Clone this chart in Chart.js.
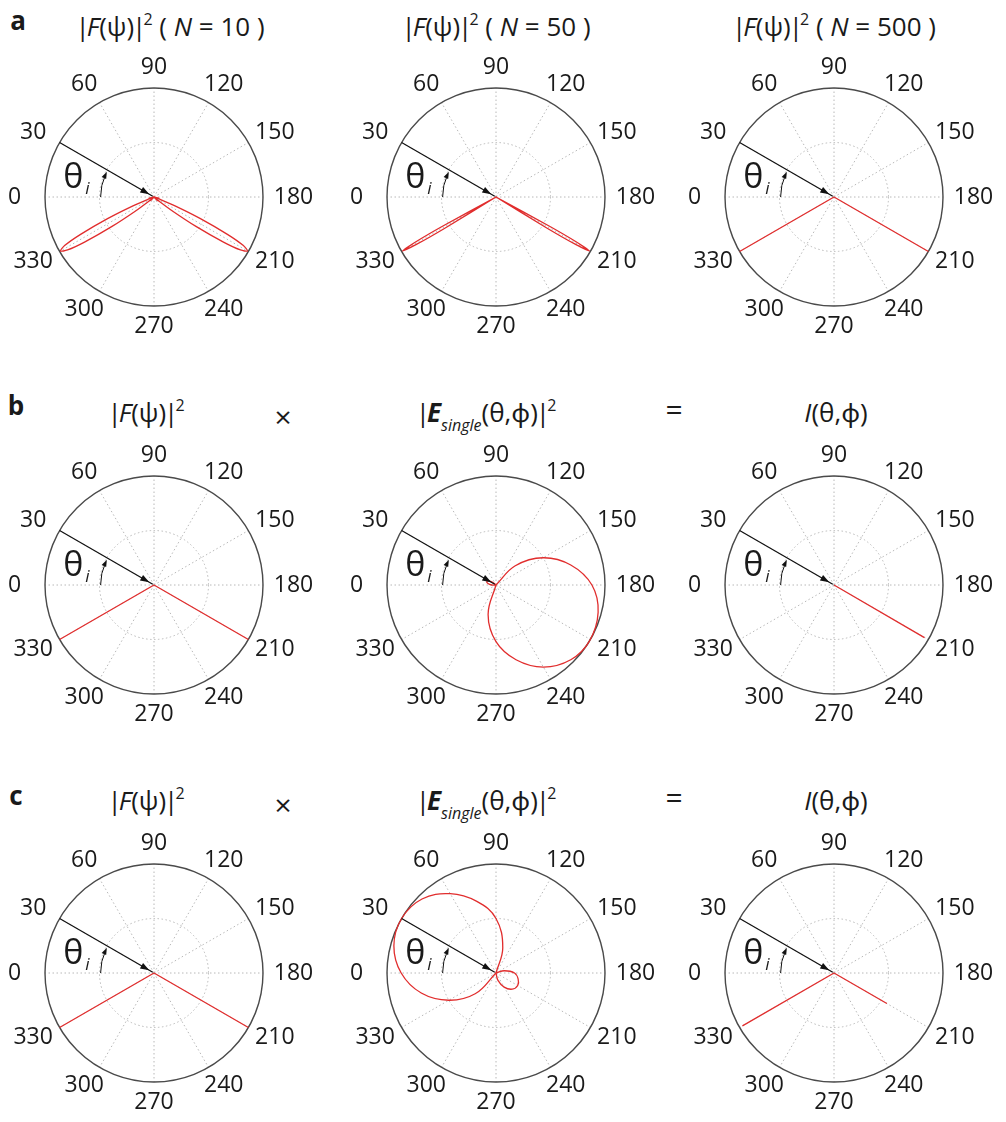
<!DOCTYPE html>
<html>
<head>
<meta charset="utf-8">
<script src="https://cdn.jsdelivr.net/npm/chart.js@4/dist/chart.umd.min.js"></script>
<style>
  body { margin: 0; background: #fff; }
  #page { position: relative; width: 1006px; height: 1122px; font-family: "Open Sans", "Noto Sans", sans-serif; color: #1a1a1a; }
  canvas { position: absolute; }
  .t { position: absolute; transform: translate(-50%, -50%); white-space: nowrap; font-size: 26px; }
  .t .bl { margin-right: -3px; }
  .t .br { margin-left: -2px; margin-right: -3px; }
  .t sup { font-size: 16px; vertical-align: 0; position: relative; top: -11px; }
  .t sub { font-size: 16px; vertical-align: 0; position: relative; top: 9px; }
  .t.op { font-size: 30px; }
  .panel { position: absolute; font-weight: bold; font-size: 26px; transform: translate(-50%, -50%); }
</style>
</head>
<body>
<div id="page">
  <div class="panel" style="left:18px;top:20px">a</div>
  <div class="t" style="left:170px;top:26px"><span class="bl">|</span><i>F</i>(ψ)<span class="br">|</span><sup>2</sup> ( <i>N</i> = 10 )</div>
  <div class="t" style="left:496px;top:26px"><span class="bl">|</span><i>F</i>(ψ)<span class="br">|</span><sup>2</sup> ( <i>N</i> = 50 )</div>
  <div class="t" style="left:834px;top:26px"><span class="bl">|</span><i>F</i>(ψ)<span class="br">|</span><sup>2</sup> ( <i>N</i> = 500 )</div>

  <div class="panel" style="left:16px;top:405px">b</div>
  <div class="t" style="left:146px;top:412px"><span class="bl">|</span><i>F</i>(ψ)<span class="br">|</span><sup>2</sup></div>
  <div class="t op" style="left:283px;top:416px">×</div>
  <div class="t" style="left:486px;top:412px"><span class="bl">|</span><b><i>E</i></b><sub><i>single</i></sub>(θ,ϕ)<span class="br">|</span><sup>2</sup></div>
  <div class="t op" style="left:674px;top:408px">=</div>
  <div class="t" style="left:836px;top:412px"><i>I</i>(θ,ϕ)</div>

  <div class="panel" style="left:16px;top:795px">c</div>
  <div class="t" style="left:146px;top:800px"><span class="bl">|</span><i>F</i>(ψ)<span class="br">|</span><sup>2</sup></div>
  <div class="t op" style="left:283px;top:804px">×</div>
  <div class="t" style="left:486px;top:800px"><span class="bl">|</span><b><i>E</i></b><sub><i>single</i></sub>(θ,ϕ)<span class="br">|</span><sup>2</sup></div>
  <div class="t op" style="left:674px;top:796px">=</div>
  <div class="t" style="left:836px;top:800px"><i>I</i>(θ,ϕ)</div>
</div>
<script>
// angular ticks of every polar plot (degrees, 0 at left, clockwise)
const tickAngles = [0, 30, 60, 90, 120, 150, 180, 210, 240, 270, 300, 330];
const tickLabels = ['0', '30', '60', '90', '120', '150', '180', '210', '240', '270', '300', '330'];
const gridRadii = [0.5];
const incidentAngle = 30;

// |F(psi)|^2, N = 10
const n10LeftTheta = [309, 314.5, 319, 321, 323, 325, 327, 328.5, 330, 331.5, 333, 335, 337, 339, 341, 345.5, 351];
const n10LeftR = [0, 0.05, 0, 0.06, 0.22, 0.47, 0.76, 0.93, 0.99, 0.93, 0.76, 0.47, 0.22, 0.06, 0, 0.05, 0];
const n10RightTheta = [189, 194.5, 199, 201, 203, 205, 207, 208.5, 210, 211.5, 213, 215, 217, 219, 221, 225.5, 231];
const n10RightR = [0, 0.05, 0, 0.06, 0.22, 0.47, 0.76, 0.93, 0.99, 0.93, 0.76, 0.47, 0.22, 0.06, 0, 0.05, 0];

// |F(psi)|^2, N = 50
const n50LeftTheta = [327.8, 328.6, 329.2, 330, 330.8, 331.4, 332.2];
const n50LeftR = [0, 0.55, 0.85, 0.99, 0.85, 0.55, 0];
const n50RightTheta = [207.8, 208.6, 209.2, 210, 210.8, 211.4, 212.2];
const n50RightR = [0, 0.55, 0.85, 0.99, 0.85, 0.55, 0];

// |F(psi)|^2, N = 500 (also used in rows b and c)
const n500LeftTheta = [329.8, 330, 330.2];
const n500LeftR = [0, 1, 0];
const n500RightTheta = [209.8, 210, 210.2];
const n500RightR = [0, 1, 0];

// |E_single|^2, row b
const eBigBTheta = [121, 135, 150, 165, 180, 195, 211, 225, 240, 255, 270, 285, 301];
const eBigBR = [0, 0.25, 0.5, 0.71, 0.88, 0.97, 1.0, 0.97, 0.87, 0.71, 0.52, 0.28, 0];
const eSmallBTheta = [350, 0, 10, 20, 30, 40, 50];
const eSmallBR = [0, 0.04, 0.075, 0.09, 0.075, 0.04, 0];

// I(theta, phi), row b
const iBTheta = [209.8, 210.2, 210.6];
const iBR = [0, 0.96, 0];

// |E_single|^2, row c
const eBigCTheta = [300, 315, 330, 345, 0, 15, 30, 45, 60, 75, 90, 105, 120];
const eBigCR = [0, 0.27, 0.5, 0.71, 0.87, 0.97, 1.0, 0.96, 0.84, 0.68, 0.5, 0.24, 0];
const eSmallCTheta = [150, 165, 180, 195, 210, 225, 240, 255, 265];
const eSmallCR = [0, 0.08, 0.17, 0.21, 0.23, 0.21, 0.15, 0.07, 0];

// I(theta, phi), row c
const iCLeftTheta = [329.8, 330, 330.2];
const iCLeftR = [0, 0.97, 0];
const iCRightTheta = [209.6, 210, 210.4];
const iCRightR = [0, 0.56, 0];

const RED = 'rgb(225, 45, 45)';

// one entry per plot: where its centre sits and which curves it shows
const panels = [
  { cx: 154, cy: 197, series: [[n10LeftTheta, n10LeftR, 0.3], [n10RightTheta, n10RightR, 0.3]] },
  { cx: 496, cy: 197, series: [[n50LeftTheta, n50LeftR, 0.2], [n50RightTheta, n50RightR, 0.2]] },
  { cx: 834, cy: 197, series: [[n500LeftTheta, n500LeftR, 0], [n500RightTheta, n500RightR, 0]] },
  { cx: 154, cy: 585, series: [[n500LeftTheta, n500LeftR, 0], [n500RightTheta, n500RightR, 0]] },
  { cx: 496, cy: 585, series: [[eBigBTheta, eBigBR, 0.4], [eSmallBTheta, eSmallBR, 0.4]] },
  { cx: 834, cy: 585, series: [[iBTheta, iBR, 0]] },
  { cx: 154, cy: 973, series: [[n500LeftTheta, n500LeftR, 0], [n500RightTheta, n500RightR, 0]] },
  { cx: 496, cy: 973, series: [[eBigCTheta, eBigCR, 0.4], [eSmallCTheta, eSmallCR, 0.4]] },
  { cx: 834, cy: 973, series: [[iCLeftTheta, iCLeftR, 0], [iCRightTheta, iCRightR, 0]] }
];

const W = 330, H = 300, PAD_X = 56, PAD_Y = 41;
const rad = d => d * Math.PI / 180;

// polar (theta, r) -> plot x/y, 0 deg on the left, 90 deg on top
function toXY(theta, r) {
  return theta.map((t, i) => ({ x: -r[i] * Math.cos(rad(t)), y: r[i] * Math.sin(rad(t)) }));
}

// grid, outer ring, angle labels and the incidence arrow
const polarDecor = {
  id: 'polarDecor',
  beforeDatasetsDraw(chart) {
    const { ctx, scales: { x, y } } = chart;
    const cx = x.getPixelForValue(0), cy = y.getPixelForValue(0);
    const R = x.getPixelForValue(1) - cx;
    ctx.save();
    ctx.strokeStyle = '#b8b8b8';
    ctx.lineWidth = 1;
    ctx.setLineDash([1.5, 2.5]);
    tickAngles.forEach(a => {
      ctx.beginPath();
      ctx.moveTo(cx, cy);
      ctx.lineTo(cx - R * Math.cos(rad(a)), cy - R * Math.sin(rad(a)));
      ctx.stroke();
    });
    gridRadii.forEach(g => {
      ctx.beginPath();
      ctx.arc(cx, cy, g * R, 0, Math.PI * 2);
      ctx.stroke();
    });
    ctx.setLineDash([]);
    ctx.strokeStyle = '#4a4a4a';
    ctx.lineWidth = 1.4;
    ctx.beginPath();
    ctx.arc(cx, cy, R, 0, Math.PI * 2);
    ctx.stroke();
    ctx.restore();
  },
  afterDatasetsDraw(chart) {
    const { ctx, scales: { x, y } } = chart;
    const cx = x.getPixelForValue(0), cy = y.getPixelForValue(0);
    const R = x.getPixelForValue(1) - cx;
    ctx.save();
    // incident arrow
    const a = rad(incidentAngle);
    const ux = -Math.cos(a), uy = -Math.sin(a);
    const x0 = cx + ux * R, y0 = cy + uy * R;
    const x1 = cx + ux * 0.05 * R, y1 = cy + uy * 0.05 * R;
    ctx.strokeStyle = '#111';
    ctx.fillStyle = '#111';
    ctx.lineWidth = 1.2;
    ctx.beginPath();
    ctx.moveTo(x0, y0);
    ctx.lineTo(x1 - ux * 4, y1 - uy * 4);
    ctx.stroke();
    ctx.beginPath();
    ctx.moveTo(x1, y1);
    ctx.lineTo(x1 + ux * 9 - uy * 3.2, y1 + uy * 9 + ux * 3.2);
    ctx.lineTo(x1 + ux * 9 + uy * 3.2, y1 + uy * 9 - ux * 3.2);
    ctx.closePath();
    ctx.fill();
    // angle arc
    const ar = 0.49 * R;
    const end = Math.PI + rad(incidentAngle - 5);
    ctx.lineWidth = 1;
    ctx.beginPath();
    ctx.arc(cx, cy, ar, Math.PI, end);
    ctx.stroke();
    const hx = cx + ar * Math.cos(end), hy = cy + ar * Math.sin(end);
    const tx = -Math.sin(end), ty = Math.cos(end);
    ctx.beginPath();
    ctx.moveTo(hx + tx * 3, hy + ty * 3);
    ctx.lineTo(hx - tx * 4 - ty * 2.5, hy - ty * 4 + tx * 2.5);
    ctx.lineTo(hx - tx * 4 + ty * 2.5, hy - ty * 4 - tx * 2.5);
    ctx.closePath();
    ctx.fill();
    // theta_i label
    ctx.fillStyle = '#1a1a1a';
    ctx.textAlign = 'center';
    ctx.textBaseline = 'middle';
    ctx.font = '34px "Open Sans"';
    const lx = cx - 0.74 * R, ly = cy - 0.17 * R;
    ctx.fillText('θ', lx, ly);
    ctx.font = 'italic 17px "Open Sans"';
    ctx.fillText('i', lx + 14, ly + 11);
    // angle tick labels
    ctx.font = '23px "Open Sans"';
    tickAngles.forEach((t, i) => {
      const px = cx - Math.cos(rad(t)) * 1.28 * R;
      const py = cy - Math.sin(rad(t)) * 1.19 * R;
      ctx.fillText(tickLabels[i], px, py);
    });
    ctx.restore();
  }
};

const page = document.getElementById('page');
panels.forEach(p => {
  const canvas = document.createElement('canvas');
  canvas.width = W;
  canvas.height = H;
  canvas.style.left = (p.cx - W / 2) + 'px';
  canvas.style.top = (p.cy - H / 2) + 'px';
  page.appendChild(canvas);
  new Chart(canvas, {
    type: 'scatter',
    data: {
      datasets: p.series.map(s => ({
        data: toXY(s[0], s[1]),
        showLine: true,
        borderColor: RED,
        borderWidth: 1.3,
        pointRadius: 0,
        tension: s[2],
        fill: false,
        clip: false
      }))
    },
    options: {
      responsive: false,
      animation: false,
      devicePixelRatio: 1,
      layout: { padding: { left: PAD_X, right: PAD_X, top: PAD_Y, bottom: PAD_Y } },
      scales: {
        x: { type: 'linear', min: -1, max: 1, display: false },
        y: { type: 'linear', min: -1, max: 1, display: false }
      },
      plugins: { legend: { display: false }, tooltip: { enabled: false } },
      events: []
    },
    plugins: [polarDecor]
  });
});
</script>
</body>
</html>
